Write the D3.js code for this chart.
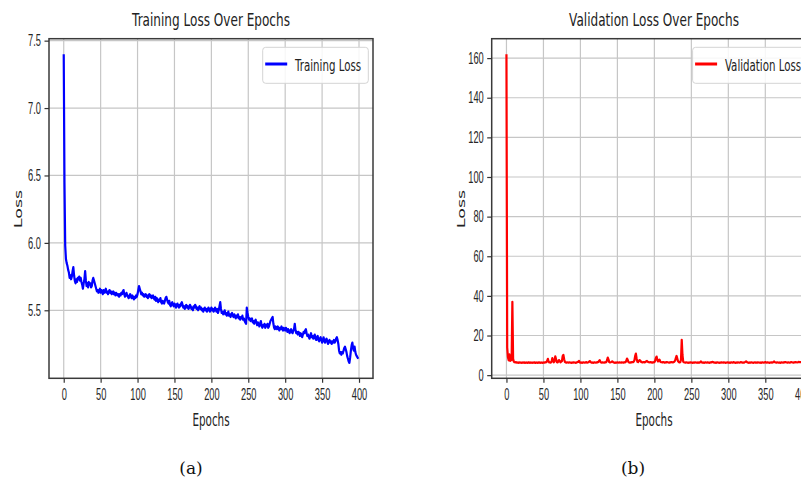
<!DOCTYPE html>
<html>
<head>
<meta charset="utf-8">
<script src="https://cdn.jsdelivr.net/npm/d3@7"></script>
<style>
  body { margin: 0; background: #fff; }
  svg { display: block; font-family: 'DejaVu Sans', sans-serif; }
  .grid line { stroke: #c6c6c6; stroke-width: 1.2; }
  .axis path { display: none; }
  .axis line { stroke: #333; stroke-width: 1.2; }
  .axis text { fill: #262626; font-size: 16px; }
  .spine { fill: none; stroke: #3a3a3a; stroke-width: 1.5; }
  .title, .label, .legend-text { fill: #222; }
  .caption { font-family: 'DejaVu Serif', serif; font-size: 17px; fill: #111; }
</style>
</head>
<body>
<svg id="chart" width="801" height="483"></svg>
<script>
// epochs 0..399
const epochs = d3.range(400);

const trainingLoss = [
  7.40, 6.45, 5.98, 5.88, 5.85, 5.83, 5.80, 5.78, 5.74, 5.76, 5.73, 5.75, 5.79, 5.82, 5.76, 5.72, 5.70, 5.73, 5.71, 5.74,
  5.73, 5.75, 5.72, 5.74, 5.71, 5.69, 5.66, 5.70, 5.73, 5.79, 5.72, 5.68, 5.70, 5.67, 5.71, 5.69, 5.70, 5.67, 5.68, 5.72,
  5.74, 5.72, 5.70, 5.68, 5.66, 5.64, 5.65, 5.63, 5.64, 5.66, 5.63, 5.65, 5.64, 5.62, 5.65, 5.63, 5.64, 5.66, 5.63, 5.64,
  5.62, 5.64, 5.65, 5.63, 5.64, 5.62, 5.63, 5.64, 5.62, 5.63, 5.61, 5.63, 5.62, 5.61, 5.62, 5.60, 5.62, 5.61, 5.63, 5.62,
  5.64, 5.65, 5.62, 5.60, 5.61, 5.63, 5.61, 5.60, 5.59, 5.61, 5.62, 5.60, 5.59, 5.61, 5.60, 5.58, 5.60, 5.59, 5.61, 5.60,
  5.62, 5.65, 5.68, 5.66, 5.64, 5.62, 5.63, 5.61, 5.62, 5.60, 5.61, 5.62, 5.60, 5.61, 5.59, 5.61, 5.62, 5.60, 5.61, 5.59,
  5.60, 5.61, 5.59, 5.58, 5.60, 5.57, 5.59, 5.58, 5.56, 5.58, 5.57, 5.59, 5.56, 5.55, 5.57, 5.56, 5.55, 5.57, 5.59, 5.60,
  5.58, 5.56, 5.55, 5.57, 5.54, 5.53, 5.55, 5.56, 5.54, 5.53, 5.55, 5.54, 5.52, 5.54, 5.55, 5.53, 5.52, 5.54, 5.53, 5.55,
  5.56, 5.54, 5.52, 5.53, 5.51, 5.53, 5.54, 5.52, 5.53, 5.51, 5.52, 5.54, 5.53, 5.51, 5.52, 5.50, 5.53, 5.52, 5.54, 5.53,
  5.51, 5.52, 5.50, 5.52, 5.53, 5.51, 5.52, 5.50, 5.51, 5.49, 5.51, 5.52, 5.50, 5.51, 5.49, 5.50, 5.52, 5.51, 5.49, 5.50,
  5.52, 5.50, 5.51, 5.49, 5.50, 5.52, 5.50, 5.49, 5.51, 5.48, 5.50, 5.53, 5.56, 5.51, 5.48, 5.49, 5.47, 5.48, 5.50, 5.47,
  5.48, 5.46, 5.47, 5.49, 5.46, 5.47, 5.45, 5.47, 5.48, 5.46, 5.45, 5.47, 5.46, 5.44, 5.46, 5.45, 5.47, 5.44, 5.45, 5.43,
  5.45, 5.44, 5.46, 5.43, 5.44, 5.42, 5.41, 5.40, 5.52, 5.48, 5.45, 5.43, 5.44, 5.42, 5.43, 5.44, 5.41, 5.42, 5.40, 5.42,
  5.43, 5.41, 5.39, 5.41, 5.40, 5.38, 5.40, 5.42, 5.39, 5.37, 5.39, 5.38, 5.40, 5.37, 5.39, 5.38, 5.40, 5.37, 5.38, 5.40,
  5.42, 5.43, 5.44, 5.45, 5.40, 5.37, 5.36, 5.38, 5.37, 5.36, 5.38, 5.37, 5.35, 5.37, 5.36, 5.38, 5.36, 5.35, 5.37, 5.36,
  5.35, 5.37, 5.36, 5.34, 5.36, 5.35, 5.33, 5.35, 5.36, 5.34, 5.33, 5.35, 5.36, 5.40, 5.35, 5.33, 5.34, 5.32, 5.34, 5.33,
  5.31, 5.33, 5.32, 5.30, 5.32, 5.34, 5.33, 5.35, 5.36, 5.33, 5.31, 5.32, 5.30, 5.29, 5.31, 5.33, 5.30, 5.31, 5.29, 5.30,
  5.32, 5.29, 5.28, 5.30, 5.31, 5.28, 5.27, 5.29, 5.30, 5.28, 5.26, 5.28, 5.30, 5.27, 5.26, 5.28, 5.29, 5.27, 5.25, 5.27,
  5.28, 5.26, 5.27, 5.25, 5.27, 5.26, 5.28, 5.26, 5.27, 5.29, 5.30, 5.28, 5.25, 5.20, 5.18, 5.19, 5.17, 5.19, 5.18, 5.20,
  5.22, 5.23, 5.21, 5.19, 5.16, 5.14, 5.12, 5.11, 5.15, 5.20, 5.24, 5.26, 5.22, 5.20, 5.23, 5.19, 5.17, 5.16, 5.15, 5.14
];

const validationLoss = [
  162, 14, 9, 7.5, 10.5, 7.2, 8.4, 7.6, 37, 8.2, 6.8, 6.5, 6.4, 6.6, 6.3, 6.4, 6.2, 6.5, 6.3, 6.4,
  6.3, 6.2, 6.4, 6.3, 6.5, 6.2, 6.3, 6.4, 6.2, 6.3, 6.5, 6.3, 6.2, 6.4, 6.3, 6.2, 6.4, 6.3, 6.5, 6.2,
  6.3, 6.4, 6.2, 6.3, 6.5, 6.3, 6.2, 6.4, 6.3, 6.2, 6.4, 6.3, 6.5, 6.4, 6.6, 7.2, 8.2, 6.9, 6.4, 6.5,
  6.3, 6.8, 8.6, 7.2, 6.5, 7.4, 9.5, 8.1, 6.6, 6.4, 6.9, 7.6, 7.2, 6.5, 6.8, 7.1, 9.6, 10.2, 8.0, 6.7,
  6.4, 6.3, 6.5, 6.4, 6.3, 6.5, 6.4, 6.3, 6.2, 6.4, 6.3, 6.5, 6.4, 6.3, 6.2, 6.4, 6.6, 6.8, 7.2, 6.5,
  6.3, 6.4, 6.2, 6.3, 6.5, 6.4, 6.3, 6.4, 6.6, 6.3, 6.4, 6.5, 6.9, 7.1, 6.6, 6.3, 6.4, 6.2, 6.3, 6.5,
  6.4, 6.3, 6.5, 6.4, 6.6, 7.1, 7.6, 6.8, 6.4, 6.3, 6.5, 6.4, 6.3, 6.5, 6.4, 6.6, 7.5, 8.9, 7.8, 6.6,
  6.4, 6.5, 6.7, 7.0, 6.6, 6.4, 6.3, 6.2, 6.4, 6.3, 6.5, 6.4, 6.3, 6.5, 6.4, 6.3, 6.5, 6.4, 6.3, 6.5,
  6.4, 6.6, 7.2, 8.4, 7.6, 6.6, 6.4, 6.3, 6.5, 6.4, 6.6, 6.5, 6.8, 7.4, 9.6, 10.9, 8.4, 6.8, 6.6, 7.2,
  7.6, 7.3, 6.7, 6.5, 6.4, 6.6, 6.5, 6.4, 6.7, 7.0, 7.2, 6.8, 6.6, 6.5, 6.4, 6.6, 6.5, 6.3, 6.5, 6.4,
  6.6, 7.2, 8.6, 9.4, 7.8, 6.9, 7.5, 7.8, 6.8, 6.6, 6.5, 6.4, 6.6, 6.5, 6.3, 6.5, 6.4, 6.6, 6.5, 6.4,
  6.3, 6.5, 6.4, 6.6, 6.5, 6.4, 6.6, 6.8, 7.3, 8.6, 9.7, 8.4, 7.0, 6.6, 6.4, 6.5, 7.8, 17.8, 10.2, 6.8,
  6.5, 6.4, 6.3, 6.5, 6.4, 6.3, 6.2, 6.4, 6.3, 6.5, 6.4, 6.3, 6.2, 6.4, 6.3, 6.5, 6.4, 6.3, 6.4, 6.2,
  6.4, 6.3, 6.6, 6.9, 6.5, 6.3, 6.4, 6.2, 6.3, 6.5, 6.4, 6.3, 6.5, 6.4, 6.2, 6.3, 6.5, 6.4, 6.6, 6.7,
  6.5, 6.3, 6.4, 6.2, 6.3, 6.5, 6.4, 6.3, 6.2, 6.4, 6.3, 6.5, 6.4, 6.3, 6.5, 6.4, 6.2, 6.3, 6.4, 6.5,
  6.3, 6.4, 6.2, 6.3, 6.5, 6.4, 6.3, 6.6, 6.4, 6.3, 6.2, 6.4, 6.3, 6.5, 6.4, 6.3, 6.4, 6.6, 6.5, 6.3,
  6.4, 6.3, 6.5, 6.7, 7.0, 6.6, 6.4, 6.3, 6.2, 6.4, 6.3, 6.5, 6.4, 6.3, 6.2, 6.4, 6.5, 6.3, 6.4, 6.3,
  6.5, 6.4, 6.3, 6.4, 6.2, 6.3, 6.5, 6.4, 6.3, 6.4, 6.6, 6.4, 6.3, 6.5, 6.4, 6.3, 6.2, 6.4, 6.5, 6.3,
  6.4, 6.6, 6.9, 6.5, 6.4, 6.3, 6.5, 6.4, 6.3, 6.4, 6.2, 6.3, 6.5, 6.4, 6.3, 6.5, 6.4, 6.6, 6.5, 6.4,
  6.3, 6.5, 6.4, 6.3, 6.4, 6.6, 6.5, 6.4, 6.3, 6.5, 6.4, 6.6, 6.5, 6.4, 6.5, 6.7, 6.6, 6.5, 6.6, 6.5
];

const epochTicks = [0, 50, 100, 150, 200, 250, 300, 350, 400];
const trainingTicks = [5.5, 6.0, 6.5, 7.0, 7.5];
const validationTicks = [0, 20, 40, 60, 80, 100, 120, 140, 160];

// matplotlib-style 5% margins around the data extent
function padDomain(values) {
  const [lo, hi] = d3.extent(values);
  const m = (hi - lo) * 0.05;
  return [lo - m, hi + m];
}

// squeeze text horizontally (the source figure is compressed in x)
function condense(sel, k) {
  sel.each(function() {
    const w = this.getComputedTextLength();
    d3.select(this).attr('textLength', w * k).attr('lengthAdjust', 'spacingAndGlyphs');
  });
}

class LossChart {

  constructor(_config, _data) {
    this.config = {
      svg: _config.svg,
      left: _config.left,
      right: _config.right,
      top: _config.top || 38.7,
      bottom: _config.bottom || 378.3,
      title: _config.title,
      seriesName: _config.seriesName,
      color: _config.color,
      yTicks: _config.yTicks,
      yFormat: _config.yFormat,
      legendWidth: _config.legendWidth,
      caption: _config.caption,
      captionX: _config.captionX
    };
    this.data = _data;
    this.initVis();
  }

  initVis() {
    let vis = this;
    const c = vis.config;

    vis.xScale = d3.scaleLinear()
        .domain(padDomain(epochs))
        .range([c.left, c.right]);

    vis.yScale = d3.scaleLinear()
        .domain(padDomain(vis.data))
        .range([c.bottom, c.top]);

    vis.g = c.svg.append('g');

    // gridlines
    const grid = vis.g.append('g').attr('class', 'grid');
    grid.selectAll('.gx')
        .data(epochTicks)
      .join('line')
        .attr('x1', d => vis.xScale(d)).attr('x2', d => vis.xScale(d))
        .attr('y1', c.top).attr('y2', c.bottom);
    grid.selectAll('.gy')
        .data(c.yTicks)
      .join('line')
        .attr('x1', c.left).attr('x2', c.right)
        .attr('y1', d => vis.yScale(d)).attr('y2', d => vis.yScale(d));

    vis.updateVis();
  }

  updateVis() {
    let vis = this;
    const c = vis.config;

    const line = d3.line()
        .x((d, i) => vis.xScale(epochs[i]))
        .y(d => vis.yScale(d));

    vis.g.append('path')
        .datum(vis.data)
        .attr('fill', 'none')
        .attr('stroke', c.color)
        .attr('stroke-width', 2.2)
        .attr('stroke-linejoin', 'round')
        .attr('d', line);

    // frame
    vis.g.append('rect')
        .attr('class', 'spine')
        .attr('x', c.left).attr('y', c.top)
        .attr('width', c.right - c.left).attr('height', c.bottom - c.top);

    // axes
    const tickK = 0.58;
    const xAxis = d3.axisBottom(vis.xScale)
        .tickValues(epochTicks)
        .tickSize(4.5)
        .tickPadding(5.5)
        .tickFormat(d3.format('d'));
    const xAxisG = vis.g.append('g')
        .attr('class', 'axis')
        .attr('transform', `translate(0,${c.bottom})`)
        .call(xAxis);
    condense(xAxisG.selectAll('text'), tickK);

    const yAxis = d3.axisLeft(vis.yScale)
        .tickValues(c.yTicks)
        .tickSize(4.5)
        .tickPadding(3.5)
        .tickFormat(c.yFormat);
    const yAxisG = vis.g.append('g')
        .attr('class', 'axis')
        .attr('transform', `translate(${c.left},0)`)
        .call(yAxis);
    condense(yAxisG.selectAll('text'), tickK);

    const cx = (c.left + c.right) / 2;

    // title
    vis.g.append('text')
        .attr('class', 'title')
        .attr('x', cx).attr('y', 26)
        .attr('text-anchor', 'middle')
        .style('font-size', '17px')
        .text(c.title)
        .call(s => condense(s, 0.71));

    // axis titles
    vis.g.append('text')
        .attr('class', 'label')
        .attr('x', cx).attr('y', 426)
        .attr('text-anchor', 'middle')
        .style('font-size', '17px')
        .text('Epochs')
        .call(s => condense(s, 0.61));

    vis.g.append('text')
        .attr('class', 'label')
        .attr('transform', `translate(${c.left - 27},209) scale(0.65,1) rotate(-90)`)
        .attr('text-anchor', 'middle')
        .style('font-size', '17.5px')
        .text('Loss');

    // legend
    const lx = c.right - 4.7 - c.legendWidth;
    const leg = vis.g.append('g').attr('transform', `translate(${lx},47.3)`);
    leg.append('rect')
        .attr('width', c.legendWidth).attr('height', 36)
        .attr('rx', 3)
        .attr('fill', 'rgba(255,255,255,0.85)')
        .attr('stroke', '#d4d4d4');
    leg.append('line')
        .attr('x1', 2.5).attr('x2', 24.5)
        .attr('y1', 16.7).attr('y2', 16.7)
        .attr('stroke', c.color).attr('stroke-width', 3);
    leg.append('text')
        .attr('class', 'legend-text')
        .attr('x', 32.3).attr('y', 24)
        .style('font-size', '16px')
        .text(c.seriesName)
        .call(s => condense(s, 0.64));

    // sub-figure caption
    c.svg.append('text')
        .attr('class', 'caption')
        .attr('x', c.captionX).attr('y', 474)
        .attr('text-anchor', 'middle')
        .text(c.caption);
  }
}

const svg = d3.select('#chart');

new LossChart({
  svg: svg, left: 49, right: 373,
  title: 'Training Loss Over Epochs', seriesName: 'Training Loss', color: '#0000ff',
  yTicks: trainingTicks, yFormat: d3.format('.1f'),
  legendWidth: 105.6, caption: '(a)', captionX: 191
}, trainingLoss);

new LossChart({
  svg: svg, left: 491.7, right: 816.3,
  title: 'Validation Loss Over Epochs', seriesName: 'Validation Loss', color: '#ff0000',
  yTicks: validationTicks, yFormat: d3.format('d'),
  legendWidth: 119, caption: '(b)', captionX: 633
}, validationLoss);
</script>
</body>
</html>
